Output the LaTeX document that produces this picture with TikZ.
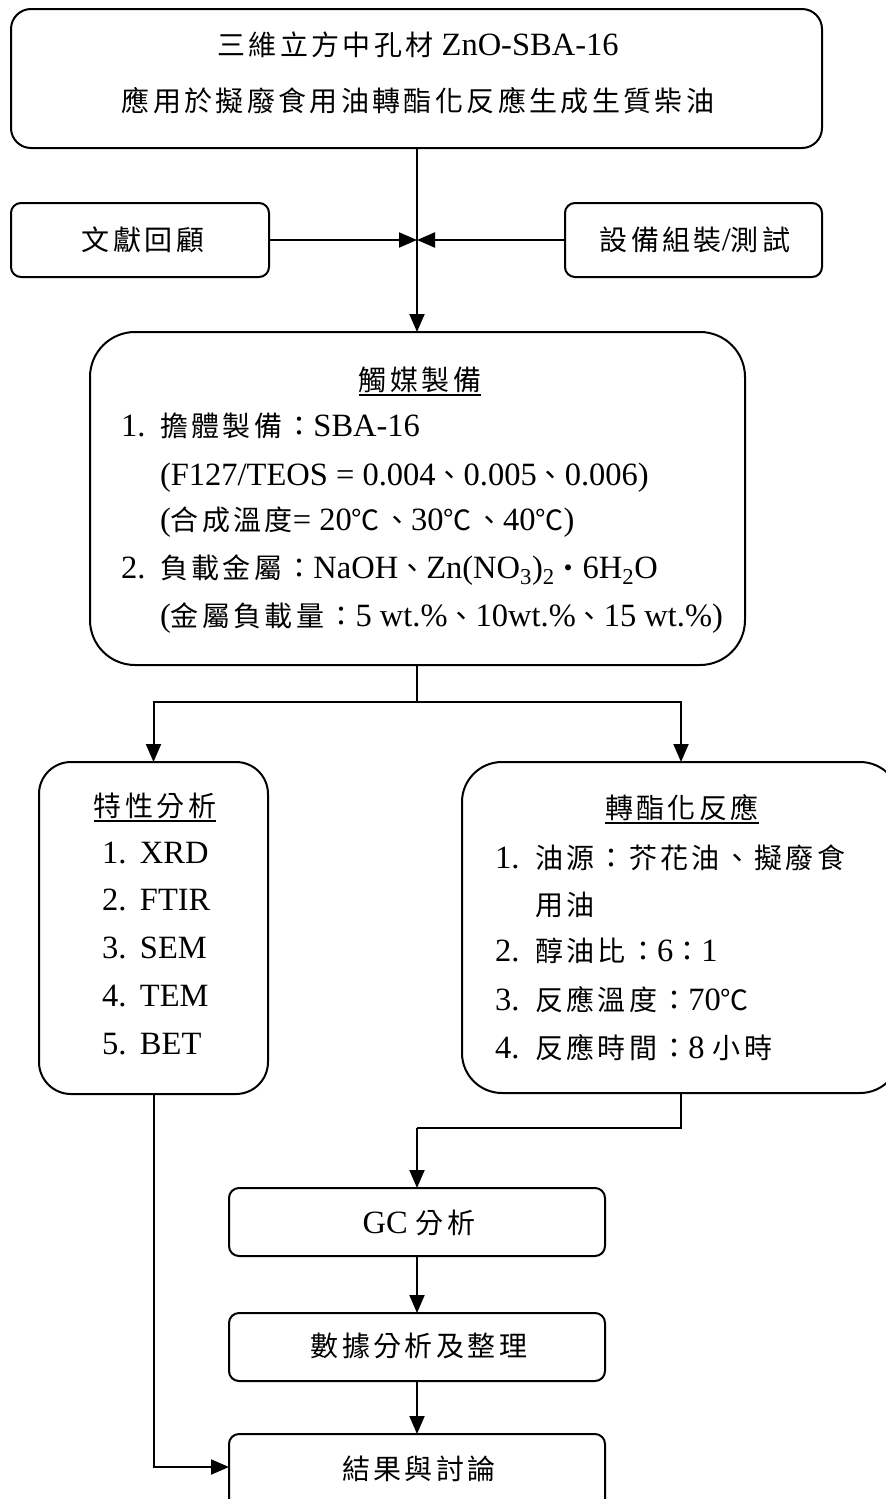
\documentclass[tikz,border=0pt]{standalone}
\usepackage{fontspec}
\setmainfont{Liberation Serif}
\newfontfamily\cjkf[LetterSpace=12]{Noto Sans CJK TC}
\newcommand\cj[1]{{\fontsize{28}{38}\selectfont\cjkf #1}}
\usetikzlibrary{arrows.meta}
\tikzset{
  box/.style={draw, line width=2pt, inner sep=0pt, outer sep=0pt},
  txt/.style={inner sep=0pt, outer sep=0pt, text height=23pt, text depth=7pt, font=\fontsize{32.5}{38}\selectfont},
  ln/.style={line width=2pt},
  arr/.style={line width=2pt, -{Triangle[length=18pt,width=15pt]}},
  ul/.style={line width=2pt},
}
\begin{document}
\begin{tikzpicture}[x=1pt,y=-1pt]
\useasboundingbox (0,0) rectangle (886,1499);
\fill[white] (0,0) rectangle (886,1499);
\clip (0,0) rectangle (886,1499);

% boxes
\node[box, rounded corners=20pt, minimum width=811pt, minimum height=139pt] (top) at (416.5,78.5) {};
\node[box, rounded corners=10pt, minimum width=258pt, minimum height=74pt] (lit) at (140,240) {};
\node[box, rounded corners=10pt, minimum width=257pt, minimum height=74pt] (equip) at (693.5,240) {};
\node[box, rounded corners=45pt, minimum width=655pt, minimum height=333pt] (cat) at (417.5,498.5) {};
\node[box, rounded corners=32pt, minimum width=229pt, minimum height=332pt] (char) at (153.5,928) {};
\node[box, rounded corners=40pt, minimum width=438pt, minimum height=331pt] (trans) at (681,927.5) {};
\node[box, rounded corners=10pt, minimum width=376pt, minimum height=68pt] (gc) at (417,1222) {};
\node[box, rounded corners=10pt, minimum width=376pt, minimum height=68pt] (data) at (417,1347) {};
\node[box, rounded corners=10pt, minimum width=376pt, minimum height=78pt] (res) at (417,1473) {};

% texts
\node[txt] (t1) at (418,47) {\cj{三維立方中孔材} ZnO-SBA-16};
\node[txt] (t2) at (418,103) {\cj{應用於擬廢食用油轉酯化反應生成生質柴油}};
\node[txt] (litt) at (143,242) {\cj{文獻回顧}};
\node[txt] (eqt) at (695,242) {\cj{設備組裝}/\cj{測試}};

\node[txt] (cattitle) at (420,382) {\cj{觸媒製備}};
\draw[ul] ([yshift=-5pt]cattitle.base west) -- ([yshift=-5pt]cattitle.base east);
\node[txt, anchor=west] (c1) at (121,428) {\makebox[39pt][l]{1.}\cj{擔體製備：}SBA-16};
\node[txt, anchor=west] (c2) at (160,477) {(F127/TEOS = 0.004\cj{、}0.005\cj{、}0.006)};
\node[txt, anchor=west] (c3) at (160,522) {(\cj{合成溫度}= 20\cj{℃、}30\cj{℃、}40\cj{℃})};
\node[txt, anchor=west] (c4) at (121,570) {\makebox[39pt][l]{2.}\cj{負載金屬：}NaOH\cj{、}Zn(NO\textsubscript{3})\textsubscript{2}\cj{・}6H\textsubscript{2}O};
\node[txt, anchor=west] (c5) at (160,618) {(\cj{金屬負載量：}5 wt.\%\cj{、}10wt.\%\cj{、}15 wt.\%)};

\node[txt] (chartitle) at (155,808) {\cj{特性分析}};
\draw[ul] ([yshift=-5pt]chartitle.base west) -- ([yshift=-5pt]chartitle.base east);
\node[txt, anchor=west] (x1) at (102,855) {\makebox[38pt][l]{1.}XRD};
\node[txt, anchor=west] (x2) at (102,902) {\makebox[38pt][l]{2.}FTIR};
\node[txt, anchor=west] (x3) at (102,950) {\makebox[38pt][l]{3.}SEM};
\node[txt, anchor=west] (x4) at (102,998) {\makebox[38pt][l]{4.}TEM};
\node[txt, anchor=west] (x5) at (102,1046) {\makebox[38pt][l]{5.}BET};

\node[txt] (transtitle) at (682,810) {\cj{轉酯化反應}};
\draw[ul] ([yshift=-5pt]transtitle.base west) -- ([yshift=-5pt]transtitle.base east);
\node[txt, anchor=west] (r1) at (495,860) {\makebox[40pt][l]{1.}\cj{油源：芥花油、擬廢食}};
\node[txt, anchor=west] (r1b) at (535,907) {\cj{用油}};
\node[txt, anchor=west] (r2) at (495,953) {\makebox[40pt][l]{2.}\cj{醇油比：}6\cj{：}1};
\node[txt, anchor=west] (r3) at (495,1002) {\makebox[40pt][l]{3.}\cj{反應溫度：}70\cj{℃}};
\node[txt, anchor=west] (r4) at (495,1050) {\makebox[40pt][l]{4.}\cj{反應時間：}8 \cj{小時}};

\node[txt] (gct) at (419,1225) {GC \cj{分析}};
\node[txt] (datat) at (419,1348) {\cj{數據分析及整理}};
\node[txt] (rest) at (419,1471) {\cj{結果與討論}};

% connectors
\coordinate (join) at (417,240);
\coordinate (split) at (417,702);
\coordinate (merge) at (417,1128);
\draw[arr] (top.south -| join) -- (join |- cat.north);
\draw[arr] (lit.east) -- (join);
\draw[arr] (equip.west) -- (join);
\draw[ln] (split |- cat.south) -- (split);
\draw[arr] (split) -| (char.north);
\draw[arr] (split) -| (trans.north);
\draw[ln] (trans.south) |- (merge);
\draw[arr] (merge) -- (gc.north);
\draw[arr] (gc.south) -- (data.north);
\draw[arr] (data.south) -- (res.north);
\draw[arr] (char.south) |- ([yshift=6pt]res.west);
\end{tikzpicture}
\end{document}
